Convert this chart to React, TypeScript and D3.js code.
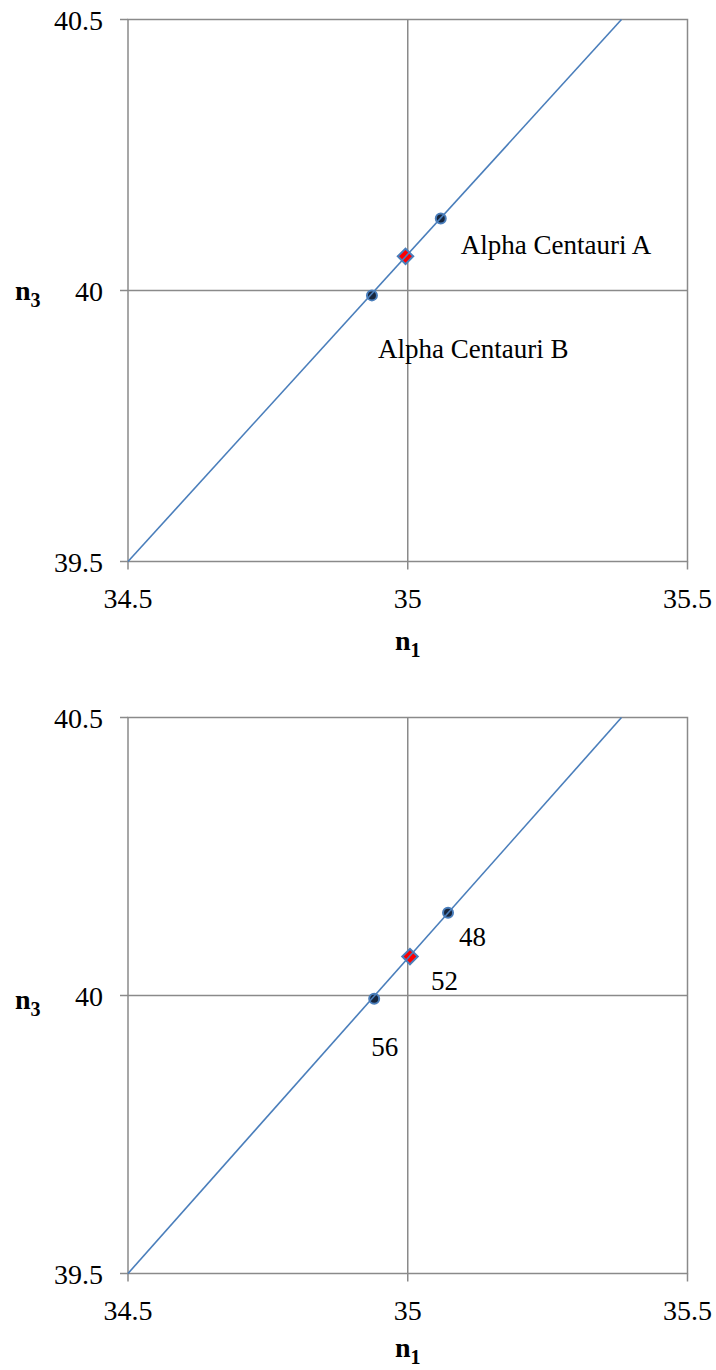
import React from 'react';
import * as d3 from 'd3';

// axis ticks
const n1Ticks = [34.5, 35, 35.5];
const n3Ticks = [39.5, 40, 40.5];

// fitted line (same in both panels)
const lineN1 = [34.5, 35.382];
const lineN3 = [39.5, 40.5];

// top panel: the two stars + the red centre point
const starNames = ['Alpha Centauri A', 'Alpha Centauri B'];
const starN1 = [35.059, 34.936];
const starN3 = [40.133, 39.991];
const centreN1 = [34.996];
const centreN3 = [40.063];

// bottom panel: labelled points
const massLabels = ['48', '52', '56'];
const massN1 = [35.072, 35.004, 34.94];
const massN3 = [40.149, 40.07, 39.994];
const massIsCentre = [false, true, false];

const GRID = '#8a8a8a';
const BLUE = '#4a7ebb';
const FONT = 'Liberation Serif';

type Pt = { n1: number; n3: number; label?: string; centre?: boolean; dx?: number; dy?: number };

function Panel({ box, points, n3LabelY, n1LabelY }: {
  box: { left: number; right: number; top: number; bottom: number };
  points: Pt[];
  n3LabelY: number;
  n1LabelY: number;
}) {
  const x = d3.scaleLinear().domain([34.5, 35.5]).range([box.left, box.right]);
  const y = d3.scaleLinear().domain([39.5, 40.5]).range([box.bottom, box.top]);
  const line = d3.line<number>()
    .x((_, i) => x(lineN1[i]))
    .y(d => y(d));
  const diamond = d3.symbol(d3.symbolSquare, 120)()!;
  const midX = (box.left + box.right) / 2;

  return (
    <g>
      {/* grid + frame */}
      <rect x={box.left} y={box.top} width={box.right - box.left} height={box.bottom - box.top}
        fill="none" stroke={GRID} strokeWidth={1.5} />
      <line x1={x(35)} x2={x(35)} y1={box.top} y2={box.bottom} stroke={GRID} strokeWidth={1.5} />
      <line x1={box.left} x2={box.right} y1={y(40)} y2={y(40)} stroke={GRID} strokeWidth={1.5} />

      {/* ticks */}
      {n3Ticks.map(t => (
        <g key={'y' + t}>
          <line x1={box.left - 8} x2={box.left} y1={y(t)} y2={y(t)} stroke={GRID} strokeWidth={1.5} />
          <text x={box.left - 25} y={y(t) + 10} textAnchor="end" fontSize={28} fontFamily={FONT}>{t}</text>
        </g>
      ))}
      {n1Ticks.map(t => (
        <g key={'x' + t}>
          <line x1={x(t)} x2={x(t)} y1={box.bottom} y2={box.bottom + 8} stroke={GRID} strokeWidth={1.5} />
          <text x={x(t)} y={box.bottom + 46} textAnchor="middle" fontSize={28} fontFamily={FONT}>{t}</text>
        </g>
      ))}

      {/* markers */}
      {points.map((p, i) => p.centre ? (
        <path key={'m' + i} d={diamond} transform={`translate(${x(p.n1)},${y(p.n3)}) rotate(45)`}
          fill="#ff0000" stroke={BLUE} strokeWidth={2} />
      ) : (
        <circle key={'m' + i} cx={x(p.n1)} cy={y(p.n3)} r={5} fill="#17263d" stroke={BLUE} strokeWidth={2} />
      ))}

      {/* line on top of markers */}
      <path d={line(lineN3) || ''} fill="none" stroke={BLUE} strokeWidth={1.6} />

      {/* point labels */}
      {points.filter(p => p.label).map((p, i) => (
        <text key={'l' + i} x={x(p.n1) + (p.dx || 0)} y={y(p.n3) + (p.dy || 0)}
          fontSize={27} fontFamily={FONT}>{p.label}</text>
      ))}

      {/* axis titles */}
      <text x={15} y={n3LabelY} fontSize={28} fontWeight="bold" fontFamily={FONT}>
        n<tspan fontSize={20} dy={7}>3</tspan>
      </text>
      <text x={midX} y={n1LabelY} textAnchor="middle" fontSize={28} fontWeight="bold" fontFamily={FONT}>
        n<tspan fontSize={20} dy={7}>1</tspan>
      </text>
    </g>
  );
}

export default function App() {
  const starOffsets = [{ dx: 20, dy: 36 }, { dx: 6, dy: 63 }];
  const massOffsets = [{ dx: 11, dy: 33 }, { dx: 21, dy: 33 }, { dx: -3, dy: 57 }];

  const topPoints: Pt[] = [
    ...starNames.map((name, i) => ({ n1: starN1[i], n3: starN3[i], label: name, ...starOffsets[i] })),
    ...centreN1.map((v, i) => ({ n1: v, n3: centreN3[i], centre: true })),
  ];
  const bottomPoints: Pt[] = massLabels.map((lab, i) => ({
    n1: massN1[i], n3: massN3[i], label: lab, centre: massIsCentre[i], ...massOffsets[i],
  }));

  return (
    <div style={{ position: 'absolute', left: 0, top: 0 }}>
      <svg width={716} height={1370} style={{ display: 'block', background: '#fff' }}>
        <Panel box={{ left: 128, right: 687.5, top: 19.5, bottom: 561.5 }} points={topPoints}
          n3LabelY={300} n1LabelY={650} />
        <Panel box={{ left: 128, right: 687.5, top: 717.5, bottom: 1273.5 }} points={bottomPoints}
          n3LabelY={1009} n1LabelY={1357} />
      </svg>
    </div>
  );
}
